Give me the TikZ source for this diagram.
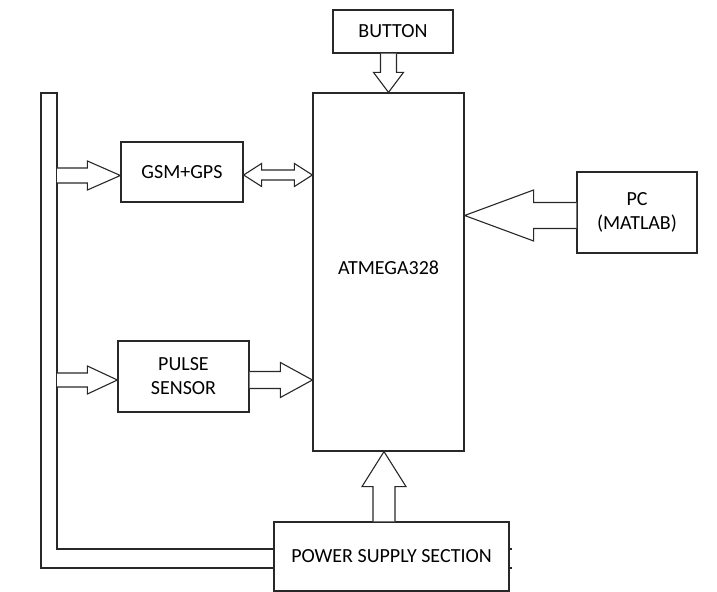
\documentclass[tikz,border=0pt]{standalone}
\usepackage{fontspec}
\setmainfont{Carlito}
\usepackage{tikz}
\usetikzlibrary{calc, positioning}
\definecolor{Linea}{RGB}{40, 40, 40}

% hollow block arrow: start, tip, stem half width, head half width, head length
\newcommand{\fatarrow}[5]{%
    \path ($(#2)!#5!(#1)$) coordinate (fa-b);
    \draw[blockarrow] ($(#1)!#3!90:(#2)$) -- ($(fa-b)!#3!90:(#2)$) -- ($(fa-b)!#4!90:(#2)$) -- (#2)
        -- ($(fa-b)!#4!-90:(#2)$) -- ($(fa-b)!#3!-90:(#2)$) -- ($(#1)!#3!-90:(#2)$);
}
% hollow double block arrow between two tips
\newcommand{\dblarrow}[5]{%
    \path ($(#1)!#5!(#2)$) coordinate (da-a) ($(#2)!#5!(#1)$) coordinate (da-b);
    \draw[blockarrow] (#1) -- ($(da-a)!#4!90:(#2)$) -- ($(da-a)!#3!90:(#2)$) -- ($(da-b)!#3!90:(#2)$)
        -- ($(da-b)!#4!90:(#2)$) -- (#2) -- ($(da-b)!#4!-90:(#2)$) -- ($(da-b)!#3!-90:(#2)$)
        -- ($(da-a)!#3!-90:(#2)$) -- ($(da-a)!#4!-90:(#2)$) -- cycle;
}

\begin{document}
\begin{tikzpicture}[
        x=0.5pt, y=-0.5pt,
        block/.style={
            rectangle,
            draw=Linea,
            fill=white,
            line width=0.6pt,
            inner sep=0pt,
            align=center,
            font=\normalsize
        },
        blockarrow/.style={
            draw=Linea,
            fill=white,
            line width=0.55pt,
            line join=miter
        },
        bus/.style={
            draw=Linea,
            line width=0.6pt
        }
    ]
        \useasboundingbox (0,0) rectangle (717,592);

        % Blocks
        \node[block, minimum width=60pt, minimum height=21.5pt] (button) at (393, 31.5) {BUTTON};
        \node[block, minimum width=75.5pt, minimum height=179pt] (atmega) at (388.5, 272) {\raisebox{4pt}{ATMEGA328}};
        \node[block, minimum width=61pt, minimum height=30pt] (gsm) at (182, 172) {GSM+GPS};
        \node[block, minimum width=65.5pt, minimum height=35.5pt] (pulse) at (183.5, 376.5) {PULSE\\SENSOR};
        \node[block, minimum width=60pt, minimum height=40.5pt] (pc) at (637, 212.5) {PC\\(MATLAB)};
        \node[block, minimum width=117.5pt, minimum height=34.5pt] (ps) at (391.5, 556.5) {POWER SUPPLY SECTION};

        % Supply bus on the left
        \coordinate (busout) at (41, 93);
        \coordinate (busin) at (57, 93);
        \coordinate (psout) at ([yshift=-5.75pt]ps.west);
        \coordinate (psin) at ([yshift=3.75pt]ps.west);
        \draw[bus] (psout) -| (busout) -- (busin) |- (psin);
        \draw[bus] (ps.east |- psin) -- ++(2, 0);
        \draw[bus] (ps.east |- psout) -- ++(2, 0);

        % Bus to modules
        \coordinate (gsmin) at ([yshift=-1.75pt]gsm.west);
        \coordinate (pulsein) at ([yshift=-1.75pt]pulse.west);
        \fatarrow{busin |- gsmin}{gsmin}{3.75pt}{7.25pt}{16.5pt}
        \fatarrow{busin |- pulsein}{pulsein}{3.5pt}{7pt}{15pt}

        % Modules to controller
        \coordinate (gsmout) at ([yshift=-1.5pt]gsm.east);
        \dblarrow{gsmout}{atmega.west |- gsmout}{2.5pt}{5.75pt}{9pt}
        \coordinate (pulseout) at ([yshift=-1.75pt]pulse.east);
        \fatarrow{pulseout}{atmega.west |- pulseout}{4.25pt}{8.75pt}{16pt}

        % PC, button and supply into controller
        \coordinate (pcout) at ([yshift=-1.5pt]pc.west);
        \fatarrow{pcout}{atmega.east |- pcout}{6.5pt}{12.75pt}{34.5pt}
        \fatarrow{atmega.north |- button.south}{atmega.north}{4pt}{7.5pt}{10pt}
        \coordinate (atin) at ([xshift=-2.25pt]atmega.south);
        \fatarrow{atin |- ps.north}{atin}{5.5pt}{11pt}{17.5pt}

    \end{tikzpicture}
\end{document}
